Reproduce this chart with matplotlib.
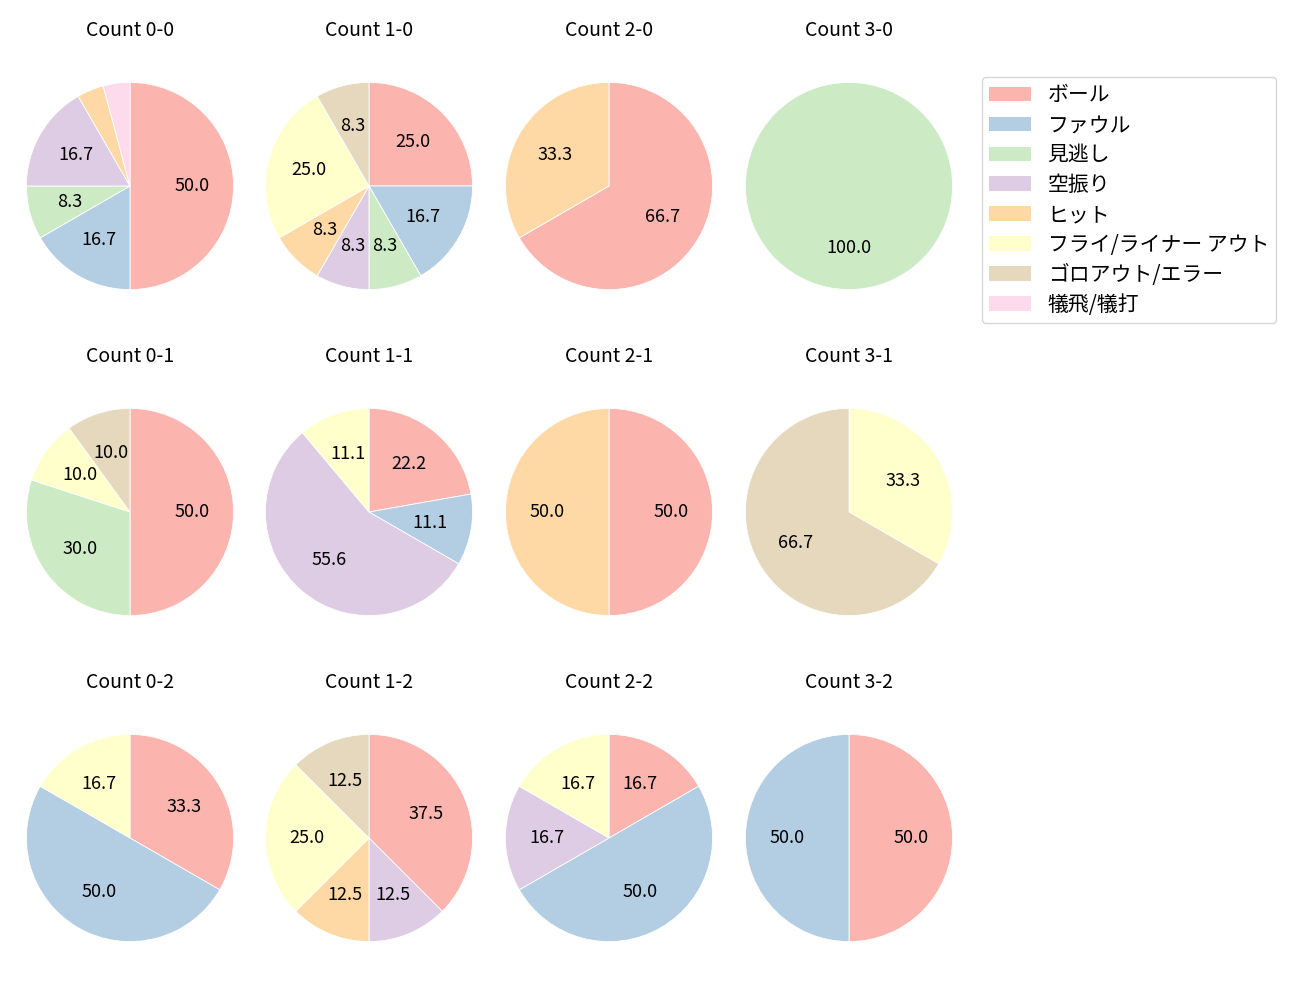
import numpy as np
import matplotlib.pyplot as plt
from matplotlib.patches import Patch

plt.rcParams['font.family'] = ['Noto Sans CJK JP', 'DejaVu Sans']
plt.rcParams['font.size'] = 12

# pitch result categories (legend order)
categories = ['ボール', 'ファウル', '見逃し', '空振り', 'ヒット',
              'フライ/ライナー アウト', 'ゴロアウト/エラー', '犠飛/犠打']
colors = plt.cm.Pastel1.colors[:8]

# counts per ball-strike situation, same order as categories
count_00 = [12, 4, 2, 4, 1, 0, 0, 1]
count_10 = [3, 2, 1, 1, 1, 3, 1, 0]
count_20 = [2, 0, 0, 0, 1, 0, 0, 0]
count_30 = [0, 0, 1, 0, 0, 0, 0, 0]
count_01 = [5, 0, 3, 0, 0, 1, 1, 0]
count_11 = [2, 1, 0, 5, 0, 1, 0, 0]
count_21 = [1, 0, 0, 0, 1, 0, 0, 0]
count_31 = [0, 0, 0, 0, 0, 1, 2, 0]
count_02 = [2, 3, 0, 0, 0, 1, 0, 0]
count_12 = [3, 0, 0, 1, 1, 2, 1, 0]
count_22 = [1, 3, 0, 1, 0, 1, 0, 0]
count_32 = [1, 1, 0, 0, 0, 0, 0, 0]

grid = [
    [('0-0', count_00), ('1-0', count_10), ('2-0', count_20), ('3-0', count_30)],
    [('0-1', count_01), ('1-1', count_11), ('2-1', count_21), ('3-1', count_31)],
    [('0-2', count_02), ('1-2', count_12), ('2-2', count_22), ('3-2', count_32)],
]

W, H = 1300, 1000
fig = plt.figure(figsize=(13, 10), dpi=100)

col_cx = [130, 369, 609, 849]
row_cy = [186, 512, 838]
size = 259  # axes box in px (pie diameter = size / 1.25)


def autopct(p):
    # small slices get no label
    return f'{p:.1f}' if p >= 5 else ''


for r, row in enumerate(grid):
    for c, (name, vals) in enumerate(row):
        cx, cy = col_cx[c], row_cy[r]
        ax = fig.add_axes([(cx - size / 2) / W, 1 - (cy + size / 2) / H,
                           size / W, size / H])
        vals = np.array(vals, dtype=float)
        keep = vals > 0
        ax.pie(vals[keep], colors=[colors[i] for i in np.where(keep)[0]],
               startangle=90, counterclock=False, autopct=autopct,
               wedgeprops=dict(edgecolor='white', linewidth=0.6),
               textprops=dict(fontsize=13))
        ax.set_title(f'Count {name}', fontsize=14, pad=15)

legend_handles = [Patch(facecolor=col) for col in colors]
fig.legend(legend_handles, categories, loc='upper left',
           bbox_to_anchor=(982 / W, 1 - 77 / H), borderaxespad=0,
           fontsize=15, handlelength=2.0, handleheight=0.7,
           handletextpad=0.8, labelspacing=0.38, borderpad=0.35)

fig.savefig('out.png', dpi=100)
